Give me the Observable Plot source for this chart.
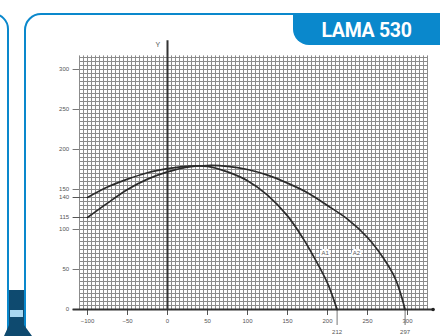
<!DOCTYPE html>
<html><head><meta charset="utf-8">
<script src="https://cdn.jsdelivr.net/npm/d3@7"></script>
<script src="https://cdn.jsdelivr.net/npm/@observablehq/plot@0.6"></script>
<style>
body{margin:0;background:#fff;}
#wrap{position:relative;width:440px;height:336px;overflow:hidden;background:#fff;font-family:Roboto,sans-serif;}
.lp{position:absolute;left:-100px;top:13px;width:105px;height:400px;border:2px solid #0a88cc;border-radius:16px;}
.main{position:absolute;left:24px;top:13px;width:460px;height:400px;border:2px solid #0a88cc;border-radius:17px;}
.tab{position:absolute;left:293px;top:13px;width:160px;height:32px;background:#0a88cc;border-bottom-left-radius:16px;}
.tabt{position:absolute;left:293px;top:20px;width:147px;height:22px;line-height:22px;text-align:center;color:#fff;font-weight:bold;font-size:19.5px;letter-spacing:-0.3px;font-family:Roboto,sans-serif;}
.deco{position:absolute;left:0;top:290px;width:40px;height:46px;background:#0e4a6f;clip-path:polygon(9px 0,24px 0,24px 35px,32px 46px,4px 46px,9px 35px);}
.stripe{position:absolute;left:10px;top:310px;width:13px;height:7px;background:#a8d8f2;}
#chart{position:absolute;left:0;top:0;}
</style>
</head>
<body>
<div id="wrap">
  <div class="lp"></div>
  <div class="main"></div>
  <div class="tab"></div>
  <div class="tabt">LAMA 530</div>
  <div class="deco"></div>
  <div class="stripe"></div>
  <div id="chart"></div>
</div>
<script>
const xTicks = [-100, -50, 0, 50, 100, 150, 200, 250, 300];
const yTicks = [0, 50, 100, 150, 200, 250, 300];

const innerX = [-100, -75, -50, -25, 0, 25, 50, 75, 100, 125, 150, 170, 185, 200, 212];
const innerY = [140, 153, 163, 171, 176, 179, 179, 172, 161, 143, 117, 88, 62, 33, 0];

const outerX = [-100, -75, -50, -25, 0, 25, 50, 75, 100, 125, 150, 175, 200, 225, 250, 270, 285, 297];
const outerY = [115, 133, 150, 163, 172, 178, 180, 179, 175, 168, 158, 146, 130, 113, 90, 64, 38, 0];

const startLevels = [115, 140];
const groundX = [212, 297];
const groundLabels = ["212", "297"];
const curveNames = ["A1", "A2"];
const curveNameX = [197, 236];
const curveNameY = [70, 70];
const axisName = "Y";

const inner = innerX.map((x, i) => ({x, y: innerY[i]}));
const outer = outerX.map((x, i) => ({x, y: outerY[i]}));

const chart = Plot.plot({
  width: 440,
  height: 336,
  marginLeft: 72.6,
  marginRight: 7.4,
  marginTop: 40.2,
  marginBottom: 27,
  x: {domain: [-118, 332], ticks: xTicks, tickSize: 6, tickPadding: 3, label: null},
  y: {domain: [0, 336], ticks: yTicks, tickSize: 0, tickPadding: 4, label: null},
  style: {background: "transparent", fontSize: "6px", fontFamily: "Arial, sans-serif", color: "#555", overflow: "visible"},
  marks: [
    Plot.ruleX(d3.range(-110, 326, 5), {y1: 0, y2: 317, stroke: "#8c8c8c", strokeWidth: 1}),
    Plot.ruleY(d3.range(5, 318, 5), {x1: -110, x2: 325, stroke: "#8c8c8c", strokeWidth: 1}),
    Plot.ruleY(yTicks, {x1: -118, x2: -110, stroke: "#777", strokeWidth: 1}),
    Plot.ruleY(startLevels, {x1: -118, x2: -100, stroke: "#555", strokeWidth: 1}),
    Plot.ruleX(groundX, {y1: 0, y2: -20, stroke: "#777", strokeWidth: 1}),
    Plot.ruleX([0], {y1: 0, y2: 336, stroke: "#333", strokeWidth: 2}),
    Plot.ruleY([0], {x1: -118, x2: 332, stroke: "#333", strokeWidth: 2}),
    Plot.dot([{x: 332, y: 0}], {x: "x", y: "y", r: 1.8, fill: "#222"}),
    Plot.line(inner, {x: "x", y: "y", curve: "catmull-rom", stroke: "#2b2b2b", strokeWidth: 1.7}),
    Plot.line(outer, {x: "x", y: "y", curve: "catmull-rom", stroke: "#2b2b2b", strokeWidth: 1.7}),
    Plot.text(startLevels, {x: -118, y: d => d, text: d => String(d), dx: -4, textAnchor: "end", fill: "#555"}),
    Plot.text(groundX, {x: d => d, y: 0, text: (d, i) => groundLabels[i], dy: 23, fill: "#555"}),
    Plot.text(curveNames, {x: (d, i) => curveNameX[i], y: (d, i) => curveNameY[i], text: d => d, fill: "#555", stroke: "white", strokeWidth: 4}),
    Plot.text([axisName], {x: -12, y: 331, text: d => d, fill: "#555", fontSize: 7})
  ]
});
document.getElementById("chart").appendChild(chart);
</script>
</body></html>
